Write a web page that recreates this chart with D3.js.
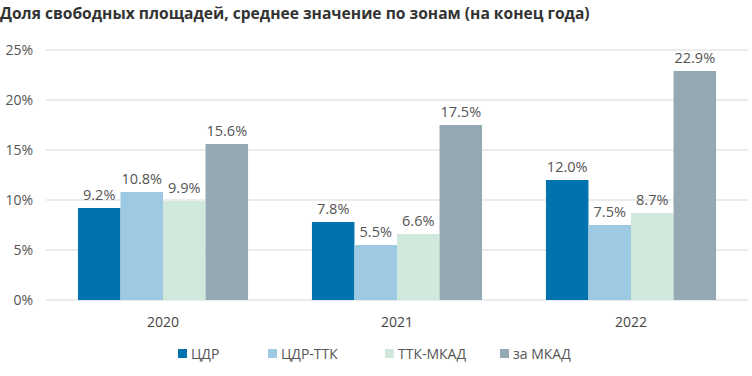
<!DOCTYPE html>
<html><head><meta charset="utf-8">
<script src="https://cdn.jsdelivr.net/npm/d3@7"></script>
<style>body{margin:0;background:#fff;} svg{display:block;font-family:"Open Sans",sans-serif;}</style>
</head><body><svg id="c" width="752" height="376"></svg>
<script>
const title = "Доля свободных площадей, среднее значение по зонам (на конец года)";
const years = ["2020", "2021", "2022"];
const seriesNames = ["ЦДР", "ЦДР-ТТК", "ТТК-МКАД", "за МКАД"];
const seriesColors = ["#0073ae", "#9dcae2", "#d1e9dd", "#95a9b4"];
const cdr = [9.2, 7.8, 12.0];
const cdrTtk = [10.8, 5.5, 7.5];
const ttkMkad = [9.9, 6.6, 8.7];
const zaMkad = [15.6, 17.5, 22.9];
const yTicks = [0, 5, 10, 15, 20, 25];

const values = [cdr, cdrTtk, ttkMkad, zaMkad];
const svg = d3.select("#c");

svg.append("text").attr("x", 0).attr("y", 19).attr("font-size", 15.6).attr("font-weight", 700)
  .attr("fill", "#333").text(title);

const x0 = d3.scaleBand().domain(years).range([46, 748]).paddingInner(0.273).paddingOuter(0.1365);
const x1 = d3.scaleBand().domain(seriesNames).range([0, x0.bandwidth()]);
const y = d3.scaleLinear().domain([0, 25]).range([300, 50]);

const grid = svg.append("g");
grid.selectAll("line").data(yTicks).join("line")
  .attr("x1", 46).attr("x2", 748).attr("y1", d => y(d)).attr("y2", d => y(d))
  .attr("stroke", "#d9d9d9").attr("stroke-width", 1);

const yAxis = svg.append("g").attr("transform", "translate(33,0)")
  .call(d3.axisLeft(y).tickValues(yTicks).tickFormat(d => d + "%").tickSize(0).tickPadding(0));
yAxis.select(".domain").remove();
yAxis.selectAll("text").attr("font-size", 14).attr("fill", "#555").attr("font-family", "Open Sans");

const xAxis = svg.append("g").attr("transform", "translate(0,300)")
  .call(d3.axisBottom(x0).tickSize(0).tickPadding(17));
xAxis.select(".domain").remove();
xAxis.selectAll("text").attr("font-size", 14).attr("fill", "#444").attr("font-family", "Open Sans");

const groups = svg.append("g").selectAll("g").data(years).join("g")
  .attr("transform", d => `translate(${x0(d)},0)`);
groups.each(function(yr, i) {
  const g = d3.select(this);
  seriesNames.forEach((s, k) => {
    const v = values[k][i];
    g.append("rect").attr("x", x1(s)).attr("width", x1.bandwidth())
      .attr("y", y(v)).attr("height", y(0) - y(v)).attr("fill", seriesColors[k]);
    g.append("text").attr("x", x1(s) + x1.bandwidth() / 2).attr("y", y(v) - 8)
      .attr("text-anchor", "middle").attr("font-size", 14.5).attr("fill", "#555")
      .text(v.toFixed(1) + "%");
  });
});

const legX = [178, 268, 385, 500];
const leg = svg.append("g");
seriesNames.forEach((s, k) => {
  leg.append("rect").attr("x", legX[k]).attr("y", 349).attr("width", 9).attr("height", 9).attr("fill", seriesColors[k]);
  leg.append("text").attr("x", legX[k] + 13).attr("y", 358.5).attr("font-size", 14).attr("fill", "#555").text(s);
});
</script></body></html>
